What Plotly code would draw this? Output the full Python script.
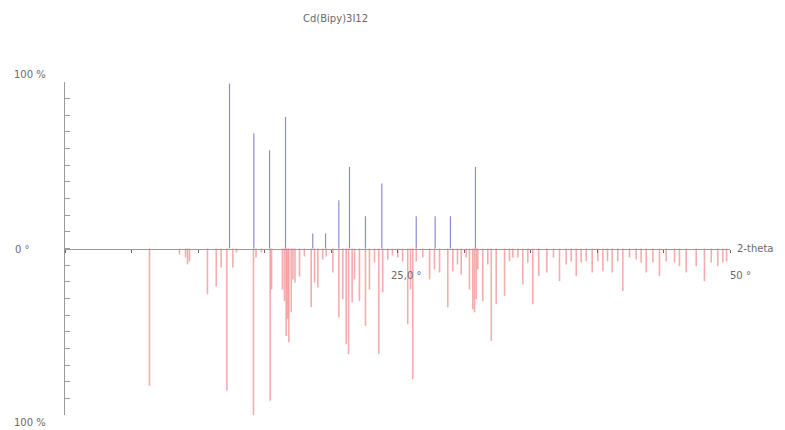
import plotly.graph_objects as go

title_text = "Cd(Bipy)3I12"

# calculated pattern (upward, blue): 2-theta, relative intensity %
calc_2theta = [12.37, 14.20, 15.38, 16.58, 18.63, 19.59, 20.59, 21.39, 22.59, 23.82,
               26.41, 27.83, 28.98, 30.86]
calc_int = [99, 69, 59, 79, 9, 9, 29, 49, 19.4, 39, 19.4, 19.4, 19.4, 49]

# experimental pattern (downward, red): 2-theta, relative intensity %
exp_2theta = [6.35, 8.61, 9.06, 9.21, 9.36, 10.71, 11.37, 11.74, 12.17, 12.62,
              12.89, 14.17, 14.36, 14.77, 15.43, 15.53, 16.35, 16.50, 16.63, 16.73,
              16.83, 17.01, 17.14, 17.29, 17.63, 18.00, 18.51, 18.76, 19.01, 19.38,
              19.64, 20.14, 20.59, 20.89, 21.14, 21.32, 21.59, 21.77, 22.14, 22.59,
              22.89, 23.27, 23.59, 23.89, 24.27, 24.62, 25.02, 25.38, 25.77, 25.98,
              26.15, 26.41, 26.90, 27.41, 27.78, 28.16, 28.78, 29.16, 29.51, 29.79,
              30.17, 30.41, 30.66, 30.79, 30.92, 31.04, 31.41, 31.79, 32.05, 32.42,
              33.05, 33.42, 33.67, 34.05, 34.42, 34.80, 35.17, 35.62, 36.23, 36.73,
              37.18, 37.68, 38.06, 38.44, 38.81, 39.19, 39.64, 40.06, 40.44, 40.79,
              41.14, 41.56, 41.94, 42.44, 42.95, 43.32, 43.70, 44.20, 44.70, 45.20,
              45.83, 46.20, 46.71, 47.46, 48.08, 48.59, 49.08, 49.46, 49.74]
exp_int = [82.5, 3.6, 5.4, 9.6, 7.8, 27.5, 22.8, 11.4, 85.4, 11.4,
           2.4, 100, 5.4, 2.4, 91.4, 24.6, 24.6, 31.6, 52.5, 42.5,
           56.3, 38.3, 18.6, 20.4, 16.8, 4.8, 35.3, 20.4, 23.4, 6.6,
           4.8, 14.4, 41.3, 30.5, 57.5, 63.5, 32.3, 18.6, 31.6, 46.5,
           24.6, 8.4, 63.5, 26.3, 6.6, 4.2, 5.4, 7.8, 45.5, 24.6,
           78.4, 7.8, 5.4, 18.6, 12.6, 14.4, 35.3, 13.6, 9.6, 15.6,
           5.4, 24.6, 36.5, 38.3, 30.5, 12.6, 31.6, 9.6, 55.5, 33.5,
           28.6, 7.6, 5.4, 5.4, 21.6, 8.4, 33.5, 16.6, 14.4, 5.4,
           19.6, 9.6, 7.8, 16.6, 8.4, 7.6, 14.4, 7.6, 13.6, 7.8,
           14.4, 7.8, 25.6, 5.4, 6.6, 8.4, 14.4, 8.4, 16.6, 7.8,
           8.4, 10.6, 14.4, 10.6, 19.6, 8.4, 10.6, 8.4, 7.8]

y_tick_vals = list(range(-100, 101, 10))
x_tick_vals = list(range(0, 51, 5))


def sticks(xs, ys, sign):
    px, py = [], []
    for x, y in zip(xs, ys):
        px += [x, x, None]
        py += [0, sign * y, None]
    return px, py


fig = go.Figure()

ex, ey = sticks(exp_2theta, exp_int, -1)
fig.add_trace(go.Scatter(x=ex, y=ey, mode="lines",
                         line=dict(color="rgba(232,70,70,0.45)", width=1.6),
                         hoverinfo="skip", showlegend=False))

cx, cy = sticks(calc_2theta, calc_int, 1)
fig.add_trace(go.Scatter(x=cx, y=cy, mode="lines",
                         line=dict(color="rgb(140,140,212)", width=1.2),
                         hoverinfo="skip", showlegend=False))

font = dict(family="DejaVu Sans, sans-serif", size=10, color="#6a6a6a")

W, H = 785, 430
L, R, T, B = 65, 55, 82, 15
PW, PH = W - L - R, H - T - B

fig.update_layout(
    width=W, height=H,
    margin=dict(l=L, r=R, t=T, b=B),
    paper_bgcolor="white", plot_bgcolor="white",
    showlegend=False,
    xaxis=dict(range=[0, 50], anchor="free", position=0.5,
               showline=True, linecolor="#9a9a9a", linewidth=1,
               ticks="outside", ticklen=3, tickcolor="#666666",
               tickvals=x_tick_vals, showticklabels=False,
               showgrid=False, zeroline=False),
    yaxis=dict(range=[-100, 100], showline=True, linecolor="#9a9a9a", linewidth=1,
               ticks="inside", ticklen=5, tickcolor="#9a9a9a",
               tickvals=y_tick_vals, showticklabels=False,
               showgrid=False, zeroline=False),
)


def px2paper(x, y):
    return (x - L) / PW, (H - B - y) / PH


annots = [
    (title_text, 335, 19, "center"),
    ("100 %", 30, 74, "center"),
    ("0 °", 22, 249, "center"),
    ("100 %", 30, 422, "center"),
    ("25,0 °", 406, 275, "center"),
    ("50 °", 740, 275, "center"),
    ("2-theta", 735, 248, "left"),
]
for text, x, y, anc in annots:
    ax, ay = px2paper(x, y)
    fig.add_annotation(text=text, x=ax, y=ay, xref="paper", yref="paper",
                       xanchor=anc, yanchor="middle", showarrow=False, font=font)

fig.write_html("out.html", config={"displayModeBar": False},
               post_script="document.body.style.margin='0';")
